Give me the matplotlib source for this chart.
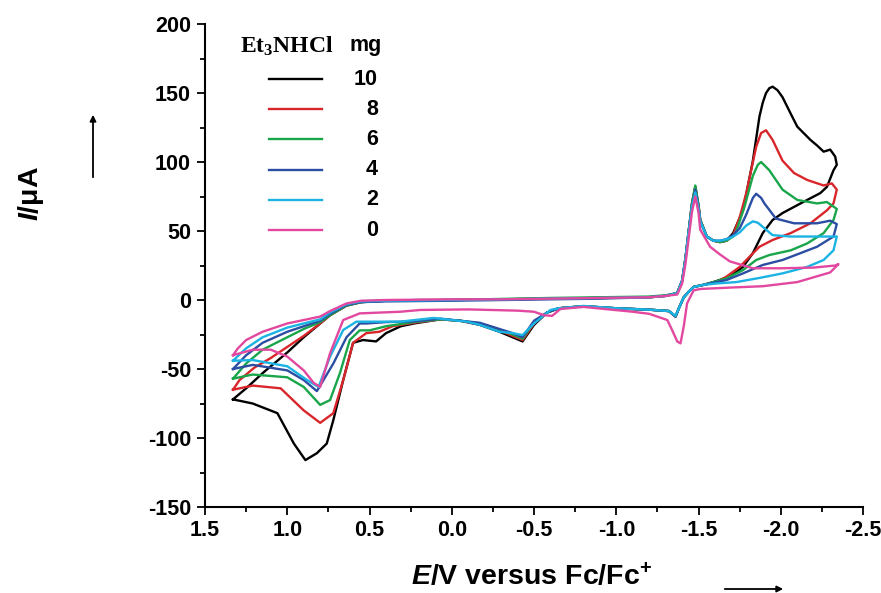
import numpy as np
import matplotlib
matplotlib.use('Agg')
import matplotlib.pyplot as plt

plt.rcParams['font.family'] = ['Liberation Sans', 'DejaVu Sans']
plt.rcParams['font.weight'] = 'bold'
plt.rcParams['axes.unicode_minus'] = False
plt.rcParams['mathtext.fontset'] = 'custom'
plt.rcParams['mathtext.it'] = 'Liberation Sans:italic:bold'
plt.rcParams['mathtext.rm'] = 'Liberation Sans:bold'
plt.rcParams['mathtext.bf'] = 'Liberation Serif:bold'

# CV loops: start at +1.33 V, forward (upper) branch to -2.35 V, then return (lower) branch
E_10 = [1.33, 1.25, 1.15, 1.0, 0.9, 0.8, 0.74, 0.64, 0.55, 0.4, 0.2, 0.0, -0.3, -0.6, -0.9, -1.2, -1.3,
        -1.37, -1.40, -1.42, -1.44, -1.46, -1.48, -1.50, -1.51, -1.55, -1.59, -1.63, -1.67, -1.71, -1.77,
        -1.83, -1.87, -1.89, -1.91, -1.93, -1.95, -1.98, -2.01, -2.06, -2.10, -2.18, -2.22, -2.26, -2.30,
        -2.33, -2.34,
        -2.32, -2.28, -2.24, -2.12, -2.01, -1.95, -1.89, -1.83, -1.77, -1.69, -1.59, -1.53, -1.47, -1.44,
        -1.41, -1.38, -1.36, -1.32, -1.2, -1.0, -0.8, -0.65, -0.58, -0.5, -0.43, -0.37, -0.29, -0.17,
        -0.05, 0.07, 0.23, 0.31, 0.40, 0.46, 0.54, 0.60, 0.66, 0.72, 0.76, 0.82, 0.89, 0.96, 1.06, 1.21, 1.33]
I_10 = [-72, -64, -53, -38, -27, -17, -11, -4, -1.5, -0.5, 0, 0, 0.5, 1, 1.5, 2, 3,
        5, 14, 30, 50, 70, 82, 68, 58, 46, 43, 42, 43, 48.5, 65,
        101, 133, 143, 150, 153.5, 154.6, 152, 147, 135, 125.6, 116, 112, 107.5, 109,
        104, 98,
        94, 82, 77.5, 70, 63, 58, 48.5, 34, 24, 17, 13, 11, 9.5, 6,
        2, -6, -12, -8, -7, -6, -4.5, -6, -9, -18, -30, -27, -23, -18,
        -15, -14, -17, -19, -24, -30, -29, -31, -58, -87, -104, -111, -116, -104, -82, -75, -72]

E_8 = [1.33, 1.29, 1.2, 1.1, 1.0, 0.9, 0.8, 0.74, 0.64, 0.55, 0.4, 0.0, -0.3, -0.6, -0.9, -1.2, -1.3,
       -1.37, -1.40, -1.42, -1.44, -1.46, -1.48, -1.50, -1.51, -1.55, -1.59, -1.63, -1.67, -1.71, -1.75,
       -1.79, -1.85, -1.88, -1.91, -1.95, -2.01, -2.08, -2.16, -2.26, -2.31, -2.34,
       -2.32, -2.28, -2.18, -2.06, -1.95, -1.87, -1.81, -1.75, -1.67, -1.61, -1.53, -1.47, -1.44,
       -1.41, -1.38, -1.36, -1.32, -1.2, -1.0, -0.8, -0.65, -0.58, -0.5, -0.43, -0.37, -0.29, -0.17,
       -0.05, 0.07, 0.23, 0.36, 0.44, 0.52, 0.60, 0.66, 0.72, 0.80, 0.90, 1.04, 1.21, 1.33]
I_8 = [-65, -58, -49, -42, -34, -26, -17, -11, -4, -1.5, -0.5, 0, 0.5, 1, 1.5, 2, 3,
       5, 14, 30, 50, 70, 82, 68, 58, 46, 43, 42, 43, 47, 60,
       77.5, 111, 121, 123, 116, 101, 92, 87, 83, 84.5, 80,
       70, 65, 55.6, 48.5, 43.5, 38.6, 31.4, 24, 17, 13, 11, 9.5, 6,
       2, -6, -12, -8, -7, -6, -4.5, -6, -9, -17, -29, -26, -22, -17.5,
       -15, -14, -16.5, -19, -23, -24, -31, -58, -82, -89, -80, -64, -62, -65]

E_6 = [1.33, 1.25, 1.15, 1.0, 0.9, 0.8, 0.74, 0.64, 0.55, 0.4, 0.0, -0.3, -0.6, -0.9, -1.2, -1.3,
       -1.37, -1.40, -1.42, -1.44, -1.46, -1.48, -1.50, -1.51, -1.55, -1.59, -1.63, -1.67, -1.71, -1.73,
       -1.78, -1.83, -1.86, -1.88, -1.93, -2.01, -2.10, -2.22, -2.28, -2.34,
       -2.32, -2.26, -2.16, -2.06, -1.93, -1.85, -1.77, -1.67, -1.59, -1.53, -1.47, -1.44,
       -1.41, -1.38, -1.36, -1.32, -1.2, -1.0, -0.8, -0.65, -0.58, -0.5, -0.43, -0.37, -0.29, -0.17,
       -0.05, 0.07, 0.23, 0.40, 0.50, 0.56, 0.62, 0.68, 0.74, 0.80, 0.90, 1.0, 1.21, 1.33]
I_6 = [-57, -46, -36, -27, -21, -16, -11, -4, -1.5, -0.5, 0, 0.8, 1.5, 2, 2.5, 3.5,
       5, 14, 30, 50, 70, 83, 68, 58, 46, 43, 42, 43, 46, 50,
       68, 90, 98, 100, 94, 80, 72.5, 70, 71, 66,
       58, 48.5, 41, 36, 32.6, 29, 21.7, 15.7, 13, 11, 9.5, 6,
       2, -6, -12, -8, -7, -6, -4.5, -6, -9, -16, -28, -25, -21.5, -17,
       -15, -14, -16, -19, -22, -22, -29, -53, -72.5, -76, -63, -56, -54, -57]

E_4 = [1.33, 1.25, 1.15, 1.0, 0.9, 0.8, 0.74, 0.64, 0.55, 0.4, 0.0, -0.3, -0.6, -0.9, -1.2, -1.3,
       -1.37, -1.40, -1.42, -1.44, -1.46, -1.48, -1.50, -1.51, -1.55, -1.59, -1.63, -1.67, -1.71, -1.75,
       -1.79, -1.83, -1.85, -1.88, -1.90, -1.97, -2.08, -2.22, -2.30, -2.34,
       -2.32, -2.22, -2.12, -2.01, -1.89, -1.77, -1.67, -1.59, -1.53, -1.47, -1.44,
       -1.41, -1.38, -1.36, -1.32, -1.2, -1.0, -0.8, -0.65, -0.58, -0.5, -0.43, -0.37, -0.29, -0.17,
       -0.05, 0.07, 0.23, 0.40, 0.52, 0.56, 0.64, 0.72, 0.82, 0.90, 1.0, 1.21, 1.33]
I_4 = [-50, -40, -31, -23, -19, -15, -10, -3.5, -1.5, -1, -0.5, 0, 0.5, 1, 2, 3,
       5, 14, 30, 50, 68, 80, 67, 57, 46, 43, 43, 44, 47, 52,
       62, 74, 77, 74, 70, 59, 55.6, 55.6, 57.5, 55,
       46, 38.6, 34, 29, 25.4, 19.3, 14.5, 12.5, 11, 9.5, 6,
       2, -6, -12, -8, -7, -6, -4.5, -6, -9, -15, -27, -24, -21, -16.5,
       -15, -13.5, -15.5, -16, -17, -17, -27, -46, -66, -58, -51, -47, -50]

E_2 = [1.33, 1.25, 1.15, 1.0, 0.9, 0.8, 0.74, 0.64, 0.55, 0.4, 0.0, -0.3, -0.6, -0.9, -1.2, -1.3,
       -1.37, -1.40, -1.42, -1.44, -1.46, -1.48, -1.50, -1.51, -1.55, -1.59, -1.63, -1.67, -1.71, -1.75,
       -1.79, -1.83, -1.86, -1.89, -1.95, -2.06, -2.22, -2.34,
       -2.32, -2.26, -2.16, -2.01, -1.87, -1.73, -1.61, -1.53, -1.47, -1.44,
       -1.41, -1.38, -1.36, -1.32, -1.2, -1.0, -0.8, -0.65, -0.6, -0.5, -0.43, -0.37, -0.29, -0.17,
       -0.09, 0.11, 0.315, 0.40, 0.58, 0.66, 0.74, 0.81, 0.88, 1.0, 1.21, 1.33]
I_2 = [-44, -35, -27, -20, -17, -14, -9, -3, -1, -0.5, 0, 0.5, 1, 1.5, 2, 3,
       5, 14, 30, 50, 68, 78, 66, 57, 46, 43, 43, 44, 46, 49,
       54, 57, 56, 53, 47, 46, 46, 46,
       36, 29, 24, 19.3, 16, 13, 12, 11, 9.5, 6,
       2, -6, -11.5, -8, -7, -6, -4.3, -6, -7.2, -17, -25.4, -24, -23, -18,
       -15.7, -13, -15.7, -15.7, -15.7, -21.7, -41, -63, -58, -48, -43.5, -44]

E_0 = [1.33, 1.30, 1.25, 1.15, 1.0, 0.9, 0.8, 0.74, 0.64, 0.55, 0.4, 0.0, -0.3, -0.6, -0.9, -1.2, -1.3,
       -1.37, -1.40, -1.42, -1.44, -1.46, -1.48, -1.50, -1.51, -1.57, -1.63, -1.69, -1.83, -2.0, -2.2,
       -2.33, -2.35,
       -2.30, -2.1, -1.89, -1.69, -1.51, -1.47, -1.43, -1.41, -1.39, -1.37, -1.34, -1.31, -1.2, -1.1,
       -0.8, -0.66, -0.61, -0.56, -0.5, -0.4, -0.1, 0.19, 0.315, 0.56, 0.66, 0.74, 0.80, 0.84, 0.90,
       1.0, 1.1, 1.21, 1.33]
I_0 = [-40, -35, -29, -23, -17, -14.5, -12, -8, -2.5, -0.5, 0, 0.5, 0.5, 1, 1.5, 2, 3,
       4, 12, 26, 45, 64, 75, 63, 51, 38.6, 33, 28, 23, 23, 23.5,
       25, 26,
       20, 13, 10, 9, 8, 7, -2.4, -19, -31.4, -30, -22, -14.5, -10, -8.5,
       -5, -6.5, -11.5, -11, -8.5, -7.7, -6.8, -7.2, -8.5, -9.7, -14.5, -38.6, -63, -60, -51,
       -41, -36, -36, -40]

amounts = ['10', '8', '6', '4', '2', '0']
colors = ['#000000', '#d8262b', '#19a54a', '#2b4ea3', '#1ab3e3', '#e2489f']
curves = [(E_10, I_10), (E_8, I_8), (E_6, I_6), (E_4, I_4), (E_2, I_2), (E_0, I_0)]

fig = plt.figure(figsize=(8.81, 5.93), dpi=100)
ax = fig.add_axes([0.2327, 0.145, 0.747, 0.8145])

for (E, I), c in zip(curves, colors):
    ax.plot(E, I, '-', color=c, lw=1.7, solid_joinstyle='round')

ax.set_xlim(1.5, -2.5)
ax.set_ylim(-150, 200)
ax.set_xticks(np.arange(1.5, -2.51, -0.5))
ax.set_xticklabels(['1.5', '1.0', '0.5', '0.0', '-0.5', '-1.0', '-1.5', '-2.0', '-2.5'])
ax.set_xticks(np.arange(1.25, -2.5, -0.5), minor=True)
ax.set_yticks(np.arange(-150, 201, 50))
ax.set_yticks(np.arange(-125, 200, 50), minor=True)
ax.spines['top'].set_visible(False)
ax.spines['right'].set_visible(False)
for s in ['left', 'bottom']:
    ax.spines[s].set_linewidth(1.5)
ax.tick_params(which='major', direction='out', length=6, width=1.3, labelsize=15.5)
ax.tick_params(axis='y', pad=4)
ax.tick_params(axis='x', pad=3)
ax.tick_params(which='minor', direction='out', length=3.5, width=1.3)
for lab in ax.get_xticklabels() + ax.get_yticklabels():
    lab.set_fontweight('bold')

fig.text(0.603, 0.027, r'$E$/V versus Fc/Fc$^{+}$', fontsize=20.5, fontweight='bold',
         ha='center', va='center')
fig.text(0.035, 0.673, r'$I$/μA', rotation=90, fontsize=20.5, fontweight='bold',
         ha='center', va='center')

# direction arrows
fig.add_artist(matplotlib.patches.FancyArrowPatch((93 / 881, 1 - 180 / 593), (93 / 881, 1 - 112 / 593),
               transform=fig.transFigure, arrowstyle='-|>', mutation_scale=9, lw=1.3, color='black'))
fig.add_artist(matplotlib.patches.FancyArrowPatch((722 / 881, 1 - 589 / 593), (786 / 881, 1 - 589 / 593),
               transform=fig.transFigure, arrowstyle='-|>', mutation_scale=9, lw=1.3, color='black'))

# legend
ax.text(0.053, 0.953, r'$\mathbf{Et_3NHCl}$', transform=ax.transAxes, fontsize=17, va='center', ha='left')
ax.text(0.220, 0.956, 'mg', transform=ax.transAxes, fontsize=15.5, fontweight='bold', va='center', ha='left')
for k, (lab, c) in enumerate(zip(amounts, colors)):
    yk = 0.886 - k * 0.0625
    ax.plot([0.097, 0.178], [yk, yk], color=c, lw=1.7, transform=ax.transAxes, clip_on=False)
    ax.text(0.263, yk, lab, transform=ax.transAxes, fontsize=15.5, fontweight='bold', va='center', ha='right')

fig.savefig('out.png', dpi=100)
